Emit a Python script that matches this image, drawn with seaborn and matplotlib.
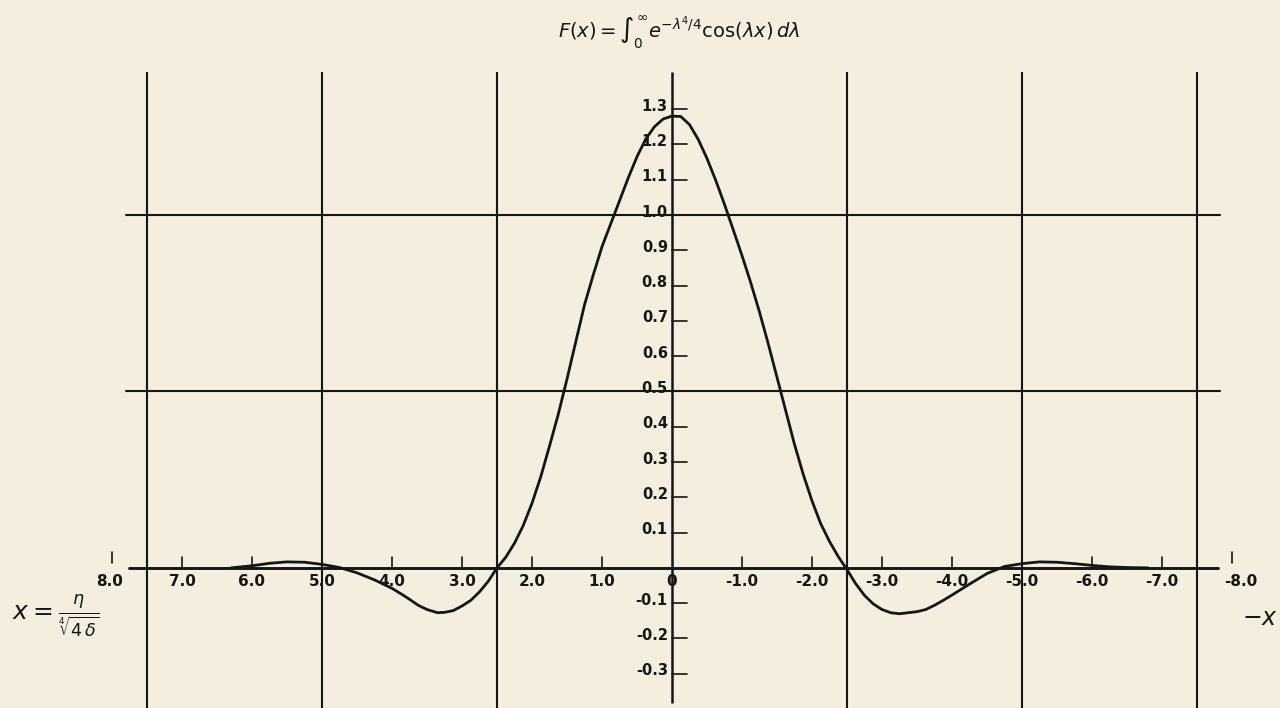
import numpy as np
import pandas as pd
import matplotlib
matplotlib.use("Agg")
import matplotlib.pyplot as plt
import seaborn as sns

# ---- data ----
x_vals = [6.3, 6.0, 5.75, 5.5, 5.25, 5.0, 4.75, 4.5, 4.25, 4.0, 3.875, 3.75, 3.625, 3.5,
          3.35, 3.25, 3.125, 3.0, 2.875, 2.75, 2.625, 2.5, 2.375, 2.25, 2.125, 2.0, 1.875,
          1.75, 1.625, 1.5, 1.375, 1.25, 1.125, 1.0, 0.875, 0.75, 0.625, 0.5, 0.375, 0.25,
          0.125, 0.0,
          -0.125, -0.25, -0.375, -0.5, -0.625, -0.75, -0.875, -1.0, -1.125, -1.25, -1.375,
          -1.5, -1.625, -1.75, -1.875, -2.0, -2.125, -2.25, -2.375, -2.5, -2.625, -2.75,
          -2.875, -3.0, -3.125, -3.25, -3.5, -3.625, -3.75, -3.875, -4.0, -4.25, -4.5,
          -4.75, -5.0, -5.25, -5.5, -5.75, -6.0, -6.25, -6.5, -6.8]
f_vals = [0.0, 0.006, 0.013, 0.017, 0.016, 0.010, 0.001, -0.014, -0.034, -0.058, -0.073,
          -0.089, -0.106, -0.118, -0.127, -0.126, -0.121, -0.108, -0.092, -0.068, -0.038,
          0.0, 0.030, 0.070, 0.120, 0.183, 0.258, 0.345, 0.435, 0.535, 0.640, 0.745, 0.830,
          0.910, 0.975, 1.040, 1.105, 1.165, 1.215, 1.250, 1.272, 1.280,
          1.279, 1.256, 1.214, 1.160, 1.098, 1.030, 0.958, 0.885, 0.808, 0.725, 0.635,
          0.540, 0.445, 0.350, 0.265, 0.190, 0.125, 0.075, 0.032, -0.005, -0.045, -0.078,
          -0.102, -0.118, -0.127, -0.130, -0.124, -0.118, -0.106, -0.092, -0.077, -0.046,
          -0.016, 0.004, 0.012, 0.017, 0.016, 0.012, 0.007, 0.003, 0.001, 0.0]

x_ticks = [8, 7, 6, 5, 4, 3, 2, 1, 0, -1, -2, -3, -4, -5, -6, -7, -8]
x_tick_labels = ["8.0", "7.0", "6.0", "5.0", "4.0", "3.0", "2.0", "1.0", "0",
                 "-1.0", "-2.0", "-3.0", "-4.0", "-5.0", "-6.0", "-7.0", "-8.0"]
y_ticks = [1.3, 1.2, 1.1, 1.0, 0.9, 0.8, 0.7, 0.6, 0.5, 0.4, 0.3, 0.2, 0.1,
           -0.1, -0.2, -0.3]
y_tick_labels = ["1.3", "1.2", "1.1", "1.0", "0.9", "0.8", "0.7", "0.6", "0.5", "0.4",
                 "0.3", "0.2", "0.1", "-0.1", "-0.2", "-0.3"]
grid_x = [7.5, 5.0, 2.5, -2.5, -5.0, -7.5]
grid_y = [1.0, 0.5]

title = r"$F(x) = \int_0^{\infty} e^{-\lambda^4/4}\cos(\lambda x)\,d\lambda$"
left_label = r"$x = \frac{\eta}{\sqrt[4]{4\,\delta}}$"
right_label = r"$-x$"

# ---- drawing ----
sns.set_theme(style="white")
plt.rcParams["font.family"] = ["DejaVu Sans"]
plt.rcParams["mathtext.fontset"] = "dejavusans"
bg = "#f4eedf"
ink = "#161616"

fig = plt.figure(figsize=(12.8, 7.08), dpi=100, facecolor=bg)
ax = fig.add_axes([0, 0, 1, 1])
ax.set_facecolor(bg)
ax.set_xlim(9.6, -8.686)
ax.set_ylim(-0.397, 1.609)
ax.axis("off")

lw = 1.5
for gx in grid_x:
    ax.plot([gx, gx], [-0.40, 1.405], color=ink, lw=lw, solid_capstyle="butt")
ax.plot([0, 0], [-0.383, 1.405], color=ink, lw=lw + 0.3, solid_capstyle="butt")
for gy in grid_y:
    ax.plot([7.8, -7.83], [gy, gy], color=ink, lw=lw)
ax.plot([7.75, -7.8], [0, 0], color=ink, lw=lw + 0.6)

# x ticks and labels
for xv, lab in zip(x_ticks, x_tick_labels):
    if abs(xv) == 8:
        ax.plot([xv, xv], [0.014, 0.045], color=ink, lw=1.2)
    elif xv != 0 and abs(xv) != 5:
        ax.plot([xv, xv], [0.0, 0.032], color=ink, lw=1.2)
    ax.text(xv + (0.03 if xv == 8 else 0.0) - (0.12 if xv == -8 else 0.0), -0.04, lab,
            ha="center", va="center", fontsize=11, fontweight="bold", color=ink)

# y ticks and labels
for yv, lab in zip(y_ticks, y_tick_labels):
    ax.plot([0, -0.22], [yv, yv], color=ink, lw=1.2)
    ax.text(0.06, yv + 0.008, lab, ha="right", va="center", fontsize=10.5,
            fontweight="bold", color=ink)

df = pd.DataFrame({"x": x_vals, "F": f_vals})
sns.lineplot(data=df, x="x", y="F", sort=False, estimator=None, ax=ax,
             color=ink, lw=2.0)

ax.text(-0.1, 1.52, title, ha="center", va="center", fontsize=14, color=ink)
ax.text(8.8, -0.135, left_label, ha="center", va="center", fontsize=18, color=ink)
ax.text(-8.4, -0.142, right_label, ha="center", va="center", fontsize=17, color=ink)

fig.savefig("out.png", dpi=100, facecolor=bg)
